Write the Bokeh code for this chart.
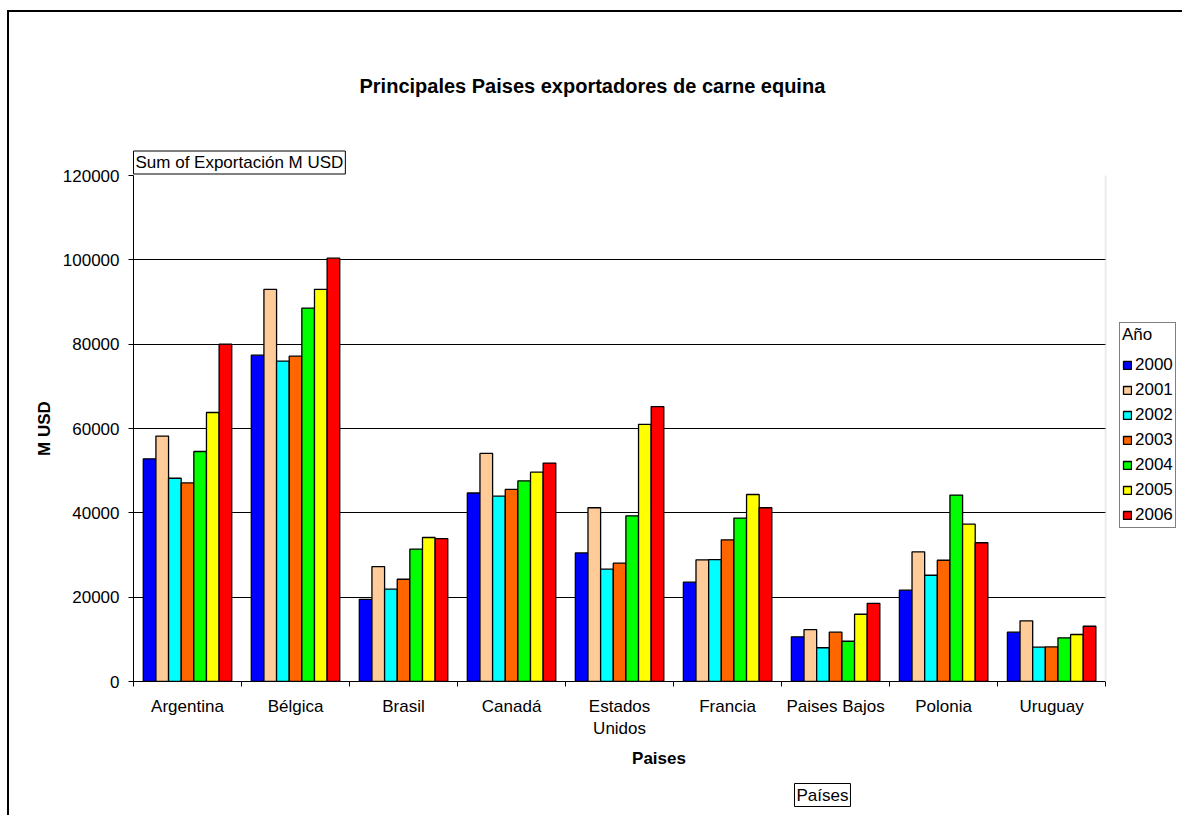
from bokeh.plotting import figure
from bokeh.models import (Range1d, LinearAxis, FixedTicker, Title, Grid, BoxAnnotation,
                          Legend, LegendItem, NumeralTickFormatter, CustomJSTickFormatter,
                          ColumnDataSource)
from bokeh.transform import dodge
from bokeh.embed import file_html
from bokeh.resources import INLINE

countries = ["Argentina", "Bélgica", "Brasil", "Canadá", "Estados Unidos",
             "Francia", "Paises Bajos", "Polonia", "Uruguay"]
years = ["2000", "2001", "2002", "2003", "2004", "2005", "2006"]
v2000 = [52800, 77400, 19500, 44700, 30500, 23550, 10600, 21650, 11700]
v2001 = [58200, 93000, 27250, 54100, 41200, 28850, 12300, 30750, 14400]
v2002 = [48200, 76000, 21900, 43950, 26650, 28900, 8000, 25200, 8150]
v2003 = [47100, 77150, 24250, 45550, 28050, 33600, 11700, 28750, 8200]
v2004 = [54550, 88550, 31400, 47600, 39300, 38750, 9550, 44200, 10350]
v2005 = [63800, 93000, 34150, 49650, 61000, 44350, 15950, 37300, 11150]
v2006 = [80000, 100400, 33900, 51800, 65200, 41200, 18550, 32900, 13100]
colors = ["#0000FF", "#FFCC99", "#00FFFF", "#FF6600", "#00FF00", "#FFFF00", "#FF0000"]
y_ticks = [0, 20000, 40000, 60000, 80000, 100000, 120000]

FONT = "Liberation Sans"
n = len(countries)

# category slots: category i occupies [i, i+1] on the x scale, centre at i + 0.5
centers = [i + 0.5 for i in range(n)]
label_map = {c: (name.replace(" ", "\n") if name == "Estados Unidos" else name)
             for c, name in zip(centers, countries)}

src = ColumnDataSource(dict(xc=centers, country=countries,
                            **dict(zip(years, [v2000, v2001, v2002, v2003, v2004, v2005, v2006]))))

# frame spans the plot area plus the legend strip on the right
p = figure(x_range=Range1d(0, 9.73), y_range=Range1d(0, 120000),
           width=1175, height=805, output_backend="svg", toolbar_location=None,
           x_axis_location=None, y_axis_location="left",
           min_border_left=124, min_border_right=0, min_border_top=163, min_border_bottom=136)
p.styles = {"border-left": "2px solid black", "border-top": "2px solid black",
            "margin-left": "7px", "margin-top": "10px"}
p.background_fill_color = "white"
p.border_fill_color = "white"
p.outline_line_color = None

p.ygrid.ticker = FixedTicker(ticks=y_ticks[1:-1])
p.ygrid.grid_line_color = "black"
p.ygrid.grid_line_width = 1
p.xgrid.grid_line_color = None
p.add_layout(Grid(dimension=1, ticker=FixedTicker(ticks=[y_ticks[-1]]),
                  grid_line_color="#bfbfbf", grid_line_width=2))

# bars
bw = 0.117
renderers = []
for i, yr in enumerate(years):
    r = p.vbar(x=dodge("xc", (i - 3) * bw), top=yr, width=bw,
               source=src, fill_color=colors[i], line_color="black", line_width=1.3)
    renderers.append(r)

# blank strip right of the plot area (holds the legend), with the grey plot-area edge
p.add_layout(BoxAnnotation(left=n, right=20, bottom=-10000, top=130000,
                           fill_color="white", fill_alpha=1,
                           line_color="#bfbfbf", line_width=2))

# y axis
yax = p.yaxis[0]
yax.ticker = FixedTicker(ticks=y_ticks)
yax.formatter = NumeralTickFormatter(format="0")
yax.major_tick_out = 5
yax.major_tick_in = 0
yax.minor_tick_line_color = None
yax.axis_line_color = "black"
yax.major_tick_line_color = "black"
yax.major_label_standoff = 9
yax.major_label_text_font = FONT
yax.major_label_text_font_size = "17px"
yax.major_label_text_color = "black"
yax.axis_label = "M USD"
yax.axis_label_text_font = FONT
yax.axis_label_text_font_size = "17px"
yax.axis_label_text_font_style = "bold"
yax.axis_label_text_color = "black"
yax.axis_label_standoff = 6

# boundary ticks axis (category edges)
bax = LinearAxis(ticker=FixedTicker(ticks=list(range(n + 1))), bounds=(0, n),
                 formatter=CustomJSTickFormatter(code="return ''"),
                 major_tick_out=5, major_tick_in=0, minor_tick_line_color=None,
                 axis_line_color="black", major_tick_line_color="black",
                 major_label_text_font_size="0px", major_label_standoff=0)
p.add_layout(bax, "below")

# category label axis
cax = LinearAxis(ticker=FixedTicker(ticks=centers), bounds=(0, n),
                 major_label_overrides=label_map,
                 axis_line_color=None, major_tick_line_color=None, minor_tick_line_color=None,
                 major_tick_out=0, major_tick_in=0, major_label_standoff=10,
                 major_label_text_font=FONT, major_label_text_font_size="17px",
                 major_label_text_color="black",
                 axis_label="Paises", axis_label_text_font=FONT,
                 axis_label_text_font_size="17px", axis_label_text_font_style="bold",
                 axis_label_text_color="black", axis_label_standoff=8)
p.add_layout(cax, "below")

p.add_layout(Title(text="Países", align="left", offset=661, standoff=20,
                   text_font=FONT, text_font_size="17px", text_font_style="normal",
                   text_color="black", padding=2, border_line_color="black",
                   border_line_width=1, background_fill_color="white"), "below")

# titles above the frame (first one is closest to the frame)
p.add_layout(Title(text="Sum of Exportación M USD", align="left", offset=0, standoff=3,
                   text_font=FONT, text_font_size="17px", text_font_style="normal",
                   text_color="black", padding=2, border_line_color="black",
                   border_line_width=1, background_fill_color="white"), "above")
p.add_layout(Title(text="Principales Paises exportadores de carne equina", align="left",
                   offset=226, standoff=102, text_font=FONT, text_font_size="20px",
                   text_font_style="bold", text_color="black"), "above")

# legend (frame-relative position: left 986px, bottom 153px)
legend = Legend(items=[LegendItem(label=yr, renderers=[r]) for yr, r in zip(years, renderers)],
                title="Año", location=(986, 153), orientation="vertical",
                border_line_color="black", border_line_width=1, background_fill_color="white",
                background_fill_alpha=1, padding=2, margin=0,
                title_text_font=FONT, title_text_font_size="17px", title_text_font_style="normal",
                title_text_color="black", title_standoff=9,
                label_text_font=FONT, label_text_font_size="17px", label_text_color="black",
                glyph_width=10, glyph_height=10, label_standoff=3, spacing=4, label_height=21)
p.add_layout(legend)

open("out.html", "w").write(file_html(p, INLINE))
